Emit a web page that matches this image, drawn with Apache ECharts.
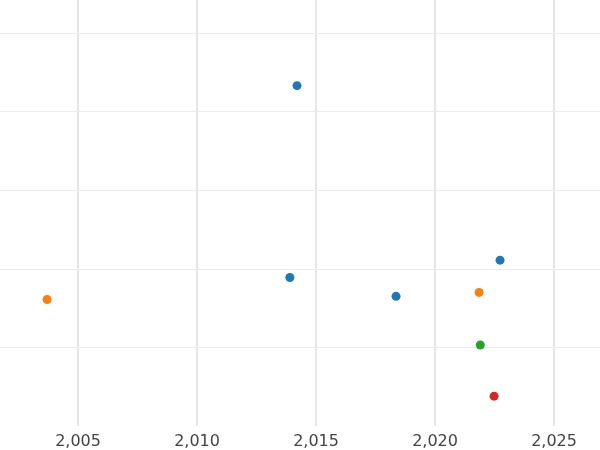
<!DOCTYPE html>
<html>
<head>
<meta charset="UTF-8">
<script src="https://cdn.jsdelivr.net/npm/echarts@6/dist/echarts.min.js"></script>
<style>html,body{margin:0;background:#fff}#c{width:600px;height:450px}</style>
</head>
<body>
<div id="c"></div>
<script>
var blue = [[2014.2, 4.33], [2013.9, 1.89], [2018.36, 1.65], [2022.73, 2.11]];
var orange = [[2003.7, 1.61], [2021.85, 1.70]];
var green = [[2021.9, 1.03]];
var red = [[2022.48, 0.38]];
var xTicks = [2005, 2010, 2015, 2020, 2025];
var yTicks = [1, 2, 3, 4, 5];
var colors = ['#1f77b4', '#ff7f0e', '#2ca02c', '#d62728'];

var chart = echarts.init(document.getElementById('c'));
function s(data, i) {
    return { type: 'scatter', data: data, symbolSize: 9, z: 5, itemStyle: { color: colors[i], opacity: 1 } };
}
var gridLines = {
    type: 'scatter', data: [], silent: true, z: 1,
    markLine: {
        silent: true, symbol: 'none', label: { show: false }, animation: false,
        data: xTicks.map(function (v) { return { xAxis: v, lineStyle: { color: '#e5e5e5', width: 2, type: 'solid' } }; })
            .concat(yTicks.map(function (v) { return { yAxis: v, lineStyle: { color: '#ebebeb', width: 1, type: 'solid' } }; }))
    }
};
chart.setOption({
    animation: false,
    grid: { left: 0, right: 0, top: 0, bottom: 24 },
    xAxis: {
        type: 'value', min: 2001.72, max: 2026.93,
        axisLine: { show: false }, axisTick: { show: false },
        axisLabel: { color: '#444', fontSize: 16, fontFamily: 'DejaVu Sans', margin: 8, customValues: xTicks },
        splitLine: { show: false }
    },
    yAxis: {
        type: 'value', min: 0, max: 5.42,
        axisLine: { show: false }, axisTick: { show: false }, axisLabel: { show: false },
        splitLine: { show: false }
    },
    series: [gridLines, s(blue, 0), s(orange, 1), s(green, 2), s(red, 3)]
});
</script>
</body>
</html>
